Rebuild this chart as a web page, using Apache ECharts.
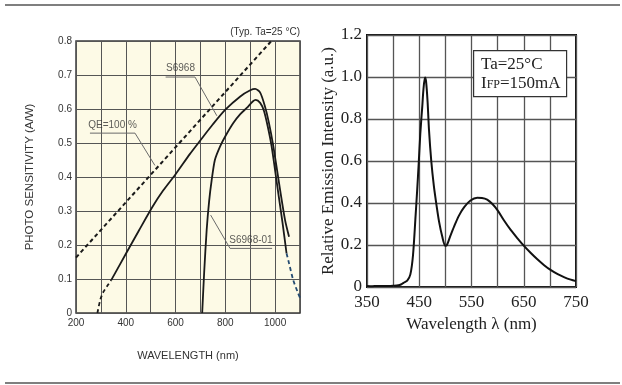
<!DOCTYPE html>
<html>
<head>
<meta charset="utf-8">
<script src="https://cdn.jsdelivr.net/npm/echarts@6/dist/echarts.min.js"></script>
<style>
html,body{margin:0;padding:0;background:#fff;}
#c{width:622px;height:385px;}
</style>
</head>
<body>
<div id="c"></div>
<script>
// ---------- Left chart: photo sensitivity ----------
const qeLine = [[200, 0.163], [985, 0.8]];
const s6968Start = [[286, 0], [298, 0.04], [310, 0.062], [328, 0.082], [341, 0.096]];
const s6968 = [[341, 0.096], [401, 0.175], [454, 0.244], [508, 0.313], [550, 0.36], [600, 0.408], [658, 0.468], [700, 0.508], [750, 0.555], [800, 0.598], [860, 0.637], [900, 0.655], [920, 0.659], [940, 0.648], [959, 0.608], [975, 0.56], [993, 0.49], [1020, 0.362], [1040, 0.273], [1056, 0.224]];
const s6968_01 = [[707, 0], [715, 0.12], [725, 0.244], [735, 0.33], [745, 0.39], [758, 0.45], [779, 0.49], [800, 0.52], [832, 0.559], [860, 0.585], [886, 0.603], [910, 0.622], [922, 0.627], [940, 0.618], [955, 0.595], [970, 0.55], [986, 0.49], [1009, 0.372], [1030, 0.264], [1046, 0.175]];
const s6968_01Tail = [[1046, 0.175], [1056, 0.146], [1073, 0.096], [1093, 0.057], [1100, 0.045]];
const leftXTicks = [200, 400, 600, 800, 1000];
const leftYTicks = ['0', '0.1', '0.2', '0.3', '0.4', '0.5', '0.6', '0.7', '0.8'];
// annotation leaders (data coordinates)
const leaderS6968 = [[560, 0.694], [678, 0.694], [766, 0.58]];
const leaderQE = [[256, 0.529], [437, 0.529], [517, 0.434]];
const leaderS6968_01 = [[741, 0.288], [819, 0.19], [988, 0.19]];
const annoLabels = [
  {name: 'S6968', value: [620, 0.719]},
  {name: 'QE=100 %', value: [347, 0.552]},
  {name: 'S6968-01', value: [903, 0.214]}
];

// ---------- Right chart: emission spectrum ----------
const spectrum = [[350, 0.005], [360, 0.004], [370, 0.005], [380, 0.005], [390, 0.005], [400, 0.006], [410, 0.008], [415, 0.012], [420, 0.02], [427, 0.03], [433, 0.06], [438, 0.15], [443, 0.34], [446, 0.46], [449, 0.59], [452, 0.73], [455.8, 0.86], [458, 0.94], [461, 0.998], [463, 0.98], [466, 0.88], [468.6, 0.75], [473, 0.6], [478, 0.48], [483, 0.39], [488, 0.31], [494, 0.24], [500, 0.196], [503, 0.2], [509, 0.24], [517, 0.29], [526, 0.34], [536, 0.38], [548, 0.412], [561, 0.425], [570, 0.424], [580, 0.416], [590, 0.395], [600, 0.365], [612, 0.318], [625, 0.272], [638, 0.232], [650, 0.197], [663, 0.163], [676, 0.132], [689, 0.104], [702, 0.08], [715, 0.061], [728, 0.046], [740, 0.035], [750, 0.028]];
const rightXTicks = [350, 450, 550, 650, 750];
const rightYTicks = ['0', '0.2', '0.4', '0.6', '0.8', '1.0', '1.2'];

const SANS = 'Liberation Sans, Arial, sans-serif';
const SERIF = 'Liberation Serif, Times New Roman, serif';

const chart = echarts.init(document.getElementById('c'), null, {renderer: 'canvas'});

chart.setOption({
  animation: false,
  backgroundColor: '#ffffff',
  grid: [
    {left: 76, top: 41, width: 224, height: 272, show: true, backgroundColor: '#fdfae6', borderColor: '#3a3a3a', borderWidth: 1.5, containLabel: false},
    {left: 367, top: 35, width: 209, height: 252, show: true, backgroundColor: 'transparent', borderColor: '#111', borderWidth: 2, containLabel: false}
  ],
  xAxis: [
    {
      gridIndex: 0, type: 'value', min: 200, max: 1100, interval: 100,
      name: 'WAVELENGTH (nm)', nameLocation: 'middle', nameGap: 37,
      nameTextStyle: {fontFamily: SANS, fontSize: 11, color: '#333'},
      axisLine: {show: false}, axisTick: {show: false},
      splitLine: {show: true, lineStyle: {color: '#555', width: 1}},
      axisLabel: {
        margin: 5, fontFamily: SANS, fontSize: 10, color: '#333',
        formatter: v => leftXTicks.indexOf(v) >= 0 ? String(v) : ''
      }
    },
    {
      gridIndex: 1, type: 'value', min: 350, max: 750, interval: 50,
      name: 'Wavelength λ (nm)', nameLocation: 'middle', nameGap: 29,
      nameTextStyle: {fontFamily: SERIF, fontSize: 17, color: '#222'},
      axisLine: {show: false}, axisTick: {show: false},
      splitLine: {show: true, lineStyle: {color: '#555', width: 1.3}},
      axisLabel: {
        margin: 7, fontFamily: SERIF, fontSize: 17, color: '#222',
        formatter: v => rightXTicks.indexOf(v) >= 0 ? String(v) : ''
      }
    }
  ],
  yAxis: [
    {
      gridIndex: 0, type: 'value', min: 0, max: 0.8, interval: 0.1,
      name: 'PHOTO SENSITIVITY (A/W)', nameLocation: 'middle', nameGap: 40,
      nameTextStyle: {fontFamily: SANS, fontSize: 11.5, color: '#333'},
      axisLine: {show: false}, axisTick: {show: false},
      splitLine: {show: true, lineStyle: {color: '#555', width: 1}},
      axisLabel: {
        margin: 4, fontFamily: SANS, fontSize: 10, color: '#333',
        formatter: v => leftYTicks[Math.round(v * 10)]
      }
    },
    {
      gridIndex: 1, type: 'value', min: 0, max: 1.2, interval: 0.2,
      name: 'Relative Emission Intensity (a.u.)', nameLocation: 'middle', nameGap: 29,
      nameTextStyle: {fontFamily: SERIF, fontSize: 17, color: '#222'},
      axisLine: {show: false}, axisTick: {show: false},
      splitLine: {show: true, lineStyle: {color: '#555', width: 1.3}},
      axisLabel: {
        margin: 5, fontFamily: SERIF, fontSize: 17, color: '#222',
        formatter: v => rightYTicks[Math.round(v * 5)]
      }
    }
  ],
  series: [
    {type: 'line', xAxisIndex: 0, yAxisIndex: 0, data: qeLine, symbol: 'none',
     lineStyle: {color: '#1a1a1a', width: 2, type: [4, 3]}},
    {type: 'line', xAxisIndex: 0, yAxisIndex: 0, data: s6968Start, symbol: 'none', smooth: 0.3,
     lineStyle: {color: '#1a1a1a', width: 1.8, type: [4, 3]}},
    {type: 'line', xAxisIndex: 0, yAxisIndex: 0, data: s6968, symbol: 'none', smooth: 0.25,
     lineStyle: {color: '#1a1a1a', width: 1.8}},
    {type: 'line', xAxisIndex: 0, yAxisIndex: 0, data: s6968_01, symbol: 'none', smooth: 0.25,
     lineStyle: {color: '#1a1a1a', width: 1.8}},
    {type: 'line', xAxisIndex: 0, yAxisIndex: 0, data: s6968_01Tail, symbol: 'none', smooth: 0.2,
     lineStyle: {color: '#234a70', width: 1.8, type: [4, 3]}},
    {type: 'line', xAxisIndex: 0, yAxisIndex: 0, data: leaderS6968, symbol: 'none',
     lineStyle: {color: '#6a6a6a', width: 1}},
    {type: 'line', xAxisIndex: 0, yAxisIndex: 0, data: leaderQE, symbol: 'none',
     lineStyle: {color: '#6a6a6a', width: 1}},
    {type: 'line', xAxisIndex: 0, yAxisIndex: 0, data: leaderS6968_01, symbol: 'none',
     lineStyle: {color: '#6a6a6a', width: 1}},
    {type: 'scatter', xAxisIndex: 0, yAxisIndex: 0, data: annoLabels, symbolSize: 1,
     itemStyle: {color: 'rgba(0,0,0,0)'},
     label: {show: true, position: 'inside', formatter: p => p.name,
             fontFamily: SANS, fontSize: 10, color: '#333'}},
    {type: 'line', xAxisIndex: 1, yAxisIndex: 1, data: spectrum, symbol: 'none', smooth: 0.3,
     lineStyle: {color: '#111', width: 2}}
  ],
  graphic: [
    {type: 'line', shape: {x1: 5, y1: 5, x2: 620, y2: 5}, style: {stroke: '#555', lineWidth: 1.5}},
    {type: 'line', shape: {x1: 5, y1: 383, x2: 620, y2: 383}, style: {stroke: '#555', lineWidth: 1.5}},
    {type: 'text', right: 322, top: 27, style: {text: '(Typ. Ta=25 °C)', font: '10px ' + SANS, fill: '#333'}},
    {type: 'rect', left: 473, top: 50, shape: {width: 93, height: 46},
     style: {fill: '#fff', stroke: '#333', lineWidth: 1.2}, z: 10},
    {type: 'text', left: 481, top: 56, z: 11,
     style: {text: 'Ta=25°C', font: '17px ' + SERIF, fill: '#222'}},
    {type: 'text', left: 481, top: 75, z: 11,
     style: {text: '{a|I}{b|FP}{a|=150mA}',
       rich: {a: {font: '17px ' + SERIF, fill: '#222'}, b: {font: '12px ' + SERIF, fill: '#222', padding: [3, 0, 0, 0]}}}}
  ]
});
</script>
</body>
</html>
